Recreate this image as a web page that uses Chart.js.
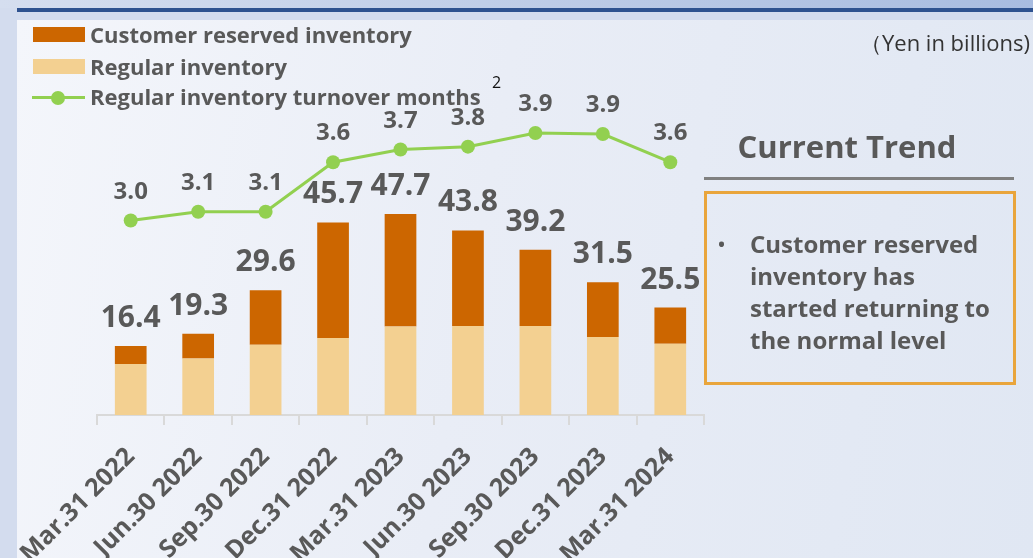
<!DOCTYPE html>
<html>
<head>
<meta charset="utf-8">
<script src="https://cdn.jsdelivr.net/npm/chart.js@4/dist/chart.umd.min.js"></script>
<style>
    html, body { margin: 0; padding: 0; }
    body {
        width: 1033px;
        height: 558px;
        position: relative;
        overflow: hidden;
        background: #d3dcee;
        font-family: 'Open Sans', sans-serif;
        color: #595959;
    }
    .top-band {
        position: absolute; left: 0; top: 0; width: 1033px; height: 8px;
        background: linear-gradient(to right, #d5deef, #a8bce0);
    }
    .top-line {
        position: absolute; left: 17px; top: 8px; width: 1016px; height: 4px;
        background: #2e528f;
    }
    .panel {
        position: absolute; left: 17px; top: 20px; width: 1016px; height: 538px;
        background: linear-gradient(100deg, #f4f6fb 0%, #e9edf6 45%, #e0e7f3 100%);
    }
    canvas { position: absolute; left: 0; top: 0; }
    .legend { position: absolute; left: 0; top: 0; font-weight: 700; font-size: 22px; }
    .legend .item { position: absolute; left: 90px; white-space: nowrap; line-height: 1; }
    .sw { position: absolute; width: 52px; height: 15px; }
    .legline { position: absolute; left: 32px; width: 53px; height: 3px; background: #92d050; }
    .legdot { position: absolute; left: 51px; width: 14px; height: 14px; border-radius: 50%; background: #92d050; }
    .note { position: absolute; left: 492px; top: 71px; font-size: 16px; color: #111; }
    .unit { position: absolute; right: 3px; top: 27px; font-size: 22px; color: #333; white-space: nowrap; }
    .trend-title {
        position: absolute; left: 692px; width: 310px; top: 131px;
        text-align: center; font-size: 31px; font-weight: 700; line-height: 1;
    }
    .trend-rule { position: absolute; left: 704px; top: 177px; width: 310px; height: 3px; background: #808080; }
    .trend-box {
        position: absolute; left: 704px; top: 191px; width: 306px; height: 188px;
        border: 3px solid #e9a53c;
    }
    .trend-box .bullet { position: absolute; left: 10px; top: 34px; font-size: 24px; line-height: 32px; }
    .trend-box .txt {
        position: absolute; left: 43px; top: 34px; width: 262px; white-space: nowrap;
        font-size: 24px; font-weight: 700; line-height: 32px;
    }
</style>
</head>
<body>
<div class="top-band"></div>
<div class="top-line"></div>
<div class="panel"></div>
<canvas id="chart" width="1033" height="558"></canvas>

<div class="legend">
    <div class="sw" style="left:33px; top:27px; background:#cc6600;"></div>
    <div class="item" style="top:23px;">Customer reserved inventory</div>
    <div class="sw" style="left:33px; top:59px; background:#f3d091;"></div>
    <div class="item" style="top:55px;">Regular inventory</div>
    <div class="legline" style="top:96px;"></div>
    <div class="legdot" style="top:91px;"></div>
    <div class="item" style="top:85px;">Regular inventory turnover months</div>
</div>
<div class="note">2</div>
<div class="unit">（Yen in billions)</div>

<div class="trend-title">Current Trend</div>
<div class="trend-rule"></div>
<div class="trend-box">
    <div class="bullet">•</div>
    <div class="txt">Customer reserved<br>inventory has<br>started returning to<br>the normal level</div>
</div>

<script>
const categories = [
    'Mar.31 2022', 'Jun.30 2022', 'Sep.30 2022', 'Dec.31 2022', 'Mar.31 2023',
    'Jun.30 2023', 'Sep.30 2023', 'Dec.31 2023', 'Mar.31 2024',
];
const regularInventory = [12.1, 13.4, 16.7, 18.3, 21.0, 21.1, 21.1, 18.5, 16.9];
const reservedInventory = [4.3, 5.9, 12.9, 27.4, 26.7, 22.7, 18.1, 13.0, 8.6];
const turnoverMonths = [3.0, 3.09, 3.09, 3.6, 3.73, 3.76, 3.9, 3.89, 3.6];

const TEXT = '#595959';

// totals above the bars and month values above the points
const valueLabels = {
    id: 'valueLabels',
    afterDatasetsDraw(chart) {
        const ctx = chart.ctx;
        const topMeta = chart.getDatasetMeta(1);
        const lineMeta = chart.getDatasetMeta(2);
        ctx.save();
        ctx.fillStyle = TEXT;
        ctx.textAlign = 'center';
        ctx.textBaseline = 'alphabetic';
        ctx.font = 'bold 30px "Open Sans"';
        topMeta.data.forEach((bar, i) => {
            const total = regularInventory[i] + reservedInventory[i];
            ctx.fillText(total.toFixed(1), bar.x, bar.y - 19);
        });
        ctx.font = 'bold 24px "Open Sans"';
        lineMeta.data.forEach((pt, i) => {
            ctx.fillText(turnoverMonths[i].toFixed(1), pt.x, pt.y - 22);
        });
        ctx.restore();
    },
};

new Chart(document.getElementById('chart'), {
    data: {
        labels: categories,
        datasets: [
            {
                type: 'bar',
                label: 'Regular inventory',
                data: regularInventory,
                backgroundColor: '#f3d091',
                barPercentage: 0.47,
                categoryPercentage: 1,
                order: 2,
            },
            {
                type: 'bar',
                label: 'Customer reserved inventory',
                data: reservedInventory,
                backgroundColor: '#cc6600',
                barPercentage: 0.47,
                categoryPercentage: 1,
                order: 2,
            },
            {
                type: 'line',
                label: 'Regular inventory turnover months',
                data: turnoverMonths,
                yAxisID: 'y1',
                borderColor: '#92d050',
                backgroundColor: '#92d050',
                borderWidth: 3,
                pointRadius: 7,
                pointBorderWidth: 0,
                tension: 0,
                order: 1,
            },
        ],
    },
    options: {
        responsive: false,
        animation: false,
        layout: { padding: { left: 97, right: 329, top: 99, bottom: 0 } },
        plugins: {
            legend: { display: false },
            tooltip: { enabled: false },
        },
        scales: {
            x: {
                stacked: true,
                afterFit: (scale) => { scale.height = 143; },
                border: { color: '#d9d9d9', width: 2 },
                grid: {
                    drawOnChartArea: false,
                    drawTicks: true,
                    tickLength: 10,
                    color: '#d9d9d9',
                    lineWidth: 2,
                },
                ticks: {
                    autoSkip: false,
                    minRotation: 45,
                    maxRotation: 45,
                    padding: 17,
                    color: TEXT,
                    font: { family: 'Open Sans', weight: 'bold', size: 25 },
                },
            },
            y: {
                stacked: true,
                display: false,
                min: 0,
                max: 75,
            },
            y1: {
                display: false,
                min: 1.0,
                max: 4.25,
            },
        },
    },
    plugins: [valueLabels],
});
</script>
</body>
</html>
